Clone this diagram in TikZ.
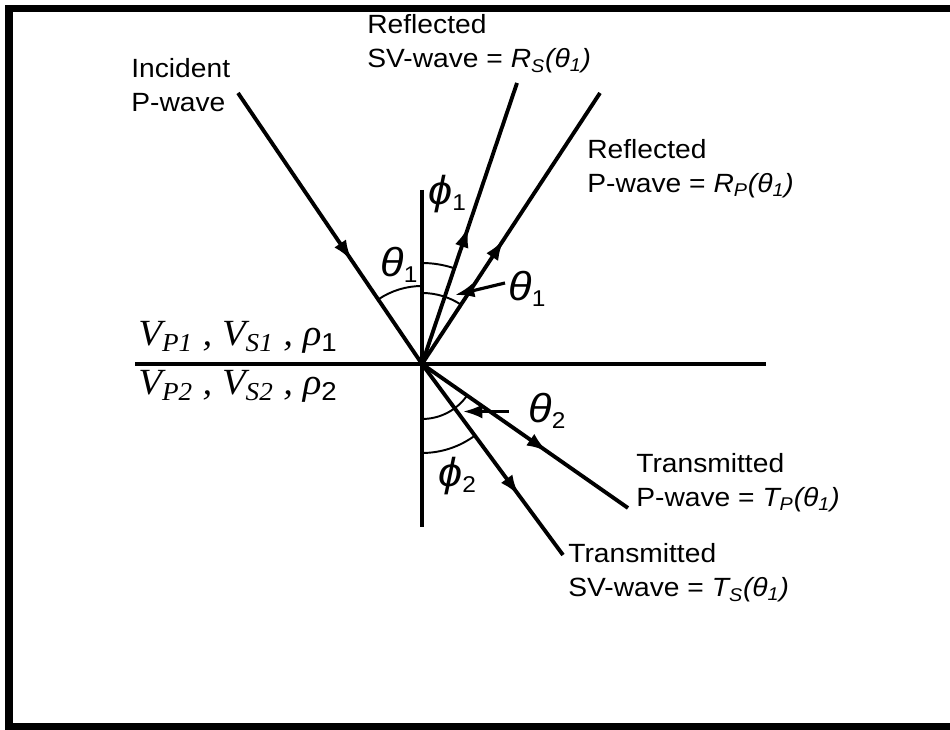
\documentclass[tikz,border=0pt]{standalone}
\usepackage{fontspec}
\setmainfont{Liberation Sans}[FakeStretch=1.07]
\newfontfamily\layerfont{Liberation Serif}[FakeStretch=1.05]
\usetikzlibrary{arrows.meta,decorations.markings}

\newcommand{\angsym}[2]{{\itshape #1}\raisebox{-3pt}{\fontsize{13}{13}\selectfont #2}}

\begin{document}
\begin{tikzpicture}[x=0.02cm, y=0.02cm,
    wave/.style={line width=2.2pt},
    midarrow/.style={postaction={decorate}, decoration={markings,
        mark=at position #1 with {\arrow{Latex[length=12pt,width=8pt]}}}},
    angarc/.style={line width=1.1pt},
    wavetext/.style={inner sep=0pt, anchor=base west, align=left,
        font=\fontsize{15}{19.5}\selectfont},
    layertext/.style={inner sep=0pt, anchor=base west,
        font=\layerfont\itshape\fontsize{21}{23}\selectfont},
    anglabel/.style={inner sep=0pt, anchor=base west,
        font=\fontsize{23}{23}\selectfont}]
    \useasboundingbox (0,0) rectangle (950,730);

    % frame, open on the right
    \draw[line width=4pt] (950,721.5) -- (9,721.5) -- (9,3.5) -- (950,3.5);

    % interface and normal through the point of incidence
    \coordinate (O) at (422,366);
    \draw[wave] (135,366) -- (766,366);
    \draw[wave] (422,540) -- (422,203);

    % ray ends
    \coordinate (inc) at (238,637);
    \coordinate (rsv) at (517,647);
    \coordinate (rp) at (600,637);
    \coordinate (tp) at (628,222);
    \coordinate (tsv) at (563,175);

    \draw[wave, midarrow=0.62] (inc) -- (O);
    \draw[wave, midarrow=0.49] (O) -- (rsv);
    \draw[wave, midarrow=0.46] (O) -- (rp);
    \draw[wave, midarrow=0.61] (O) -- (tp);
    \draw[wave, midarrow=0.69] (O) -- (tsv);

    % angle arcs, centred at O
    % incident at 124.2, refl. SV at 71.3, refl. P at 56.7
    \draw[angarc] ([shift={(124.2:78)}]O) arc[start angle=124.2, end angle=90, radius=78];
    \draw[angarc] ([shift={(90:71)}]O) arc[start angle=90, end angle=56.7, radius=71];
    \draw[angarc] ([shift={(90:101)}]O) arc[start angle=90, end angle=71.3, radius=101];
    % trans. P at -35, trans. SV at -53.6
    \draw[angarc] ([shift={(270:55)}]O) arc[start angle=270, end angle=325, radius=55];
    \draw[angarc] ([shift={(270:89)}]O) arc[start angle=270, end angle=306.4, radius=89];

    % pointers to the small arcs
    \coordinate (ptA) at (505,447);
    \coordinate (ptB) at (509,318.5);
    \draw[line width=1.8pt, -{Latex[length=11pt,width=8pt]}] (ptA) -- (455,435);
    \draw[line width=1.8pt, -{Latex[length=11pt,width=8pt]}] (ptB) -- (463,318.5);

    % wave labels (placed at the baseline of the last line)
    \node[wavetext] (incl) at (131,618) {Incident\\P-wave};
    \node[wavetext] (rsvl) at (367,662) {Reflected\\SV-wave = {\itshape R\textsubscript{S}(θ\textsubscript{1})}};
    \node[wavetext] (rpl) at (587,537) {Reflected\\P-wave = {\itshape R\textsubscript{P}(θ\textsubscript{1})}};
    \node[wavetext] (tpl) at (636,223) {Transmitted\\P-wave = {\itshape T\textsubscript{P}(θ\textsubscript{1})}};
    \node[wavetext] (tsvl) at (568,133) {Transmitted\\SV-wave = {\itshape T\textsubscript{S}(θ\textsubscript{1})}};

    % layer properties
    \node[layertext] (up) at (138,384) {V\textsubscript{P1} , V\textsubscript{S1} , ρ\textsubscript{\normalfont 1}};
    \node[layertext] (low) at (138,335) {V\textsubscript{P2} , V\textsubscript{S2} , ρ\textsubscript{\normalfont 2}};

    % angle labels
    \node[anglabel] (thA) at (380,453) {\angsym{θ}{1}};
    \node[anglabel] (phA) at (428,525) {\angsym{ϕ}{1}};
    \node[anglabel] (thB) at (508,429) {\angsym{θ}{1}};
    \node[anglabel] (thC) at (528,307) {\angsym{θ}{2}};
    \node[anglabel] (phB) at (438,243) {\angsym{ϕ}{2}};
\end{tikzpicture}
\end{document}
